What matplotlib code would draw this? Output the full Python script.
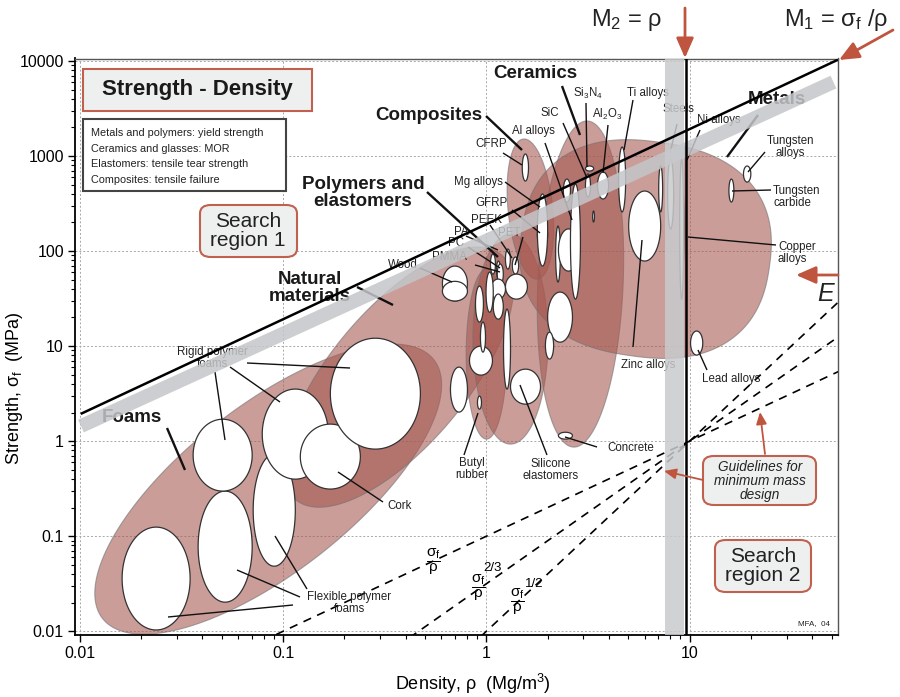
import numpy as np
import matplotlib.pyplot as plt
from matplotlib.patches import Rectangle, FancyBboxPatch
from matplotlib.ticker import FixedLocator, NullFormatter, FuncFormatter

plt.rcParams['font.family'] = ['Liberation Sans', 'DejaVu Sans']
plt.rcParams['mathtext.fontset'] = 'custom'
plt.rcParams['mathtext.rm'] = 'Liberation Sans'
plt.rcParams['mathtext.it'] = 'Liberation Sans:italic'
plt.rcParams['mathtext.bf'] = 'Liberation Sans:bold'
plt.rcParams['mathtext.default'] = 'regular'

W, H = 900, 697
RED = '#c0553f'
ENV_COL = '#a55750'
BOX_FACE = '#eef0ef'

######
#   data
######
XLIM = (10 ** -2.025, 10 ** 1.73)
YLIM = (10 ** -2.04, 10 ** 4.026)
X_TICKS = [0.01, 0.1, 1, 10]
Y_TICKS = [0.01, 0.1, 1, 10, 100, 1000, 10000]

# family envelopes: major axis from (rho1, sig1) to (rho2, sig2), width in decades
ENV_NAMES = ['Foams', 'Natural', 'Elastomers', 'Polymers', 'Composites', 'Ceramics', 'Metals']
ENV_RHO1 = [0.0129, 0.115, 1.0, 1.313, 1.78, 2.68, 1.49]
ENV_SIG1 = [0.0136, 0.242, 1.05, 0.93, 50.7, 0.865, 160]
ENV_RHO2 = [0.551, 1.18, 1.0, 1.313, 1.52, 3.14, 24.7]
ENV_SIG2 = [7.18, 92, 64.6, 151, 1510, 2335, 68.9]
ENV_WIDTH = [0.82, 0.67, 0.20, 0.37, 0.22, 0.42, 1.06]
ENV_POWER = [2, 2, 2, 2, 2, 2, 2.4]

# individual materials: density range and strength range
BUB_RHO_LO = [0.0161, 0.0381, 0.0711, 0.036, 0.0788, 0.1213, 0.1705,
              0.607, 0.607, 0.665, 0.825, 0.903, 0.883, 0.934, 1.213, 1.313,
              1.046, 1.12, 1.13, 1.24, 1.34, 1.24, 1.05, 1.08, 0.995,
              1.50, 1.78, 1.78, 2.19, 2.26, 2.59, 2.39, 2.0, 1.95,
              3.07, 3.07, 3.52, 3.33, 4.47, 5.01, 7.79, 7.04, 8.93,
              10.1, 18.4, 15.6, 2.26]
BUB_RHO_HI = [0.0348, 0.0703, 0.1146, 0.0703, 0.1667, 0.2395, 0.473,
              0.806, 0.806, 0.806, 1.07, 0.945, 0.966, 0.989, 1.313, 1.845,
              1.107, 1.17, 1.21, 1.31, 1.44, 1.59, 1.24, 1.21, 1.08,
              1.61, 2.0, 2.0, 2.31, 2.84, 2.90, 2.59, 2.65, 2.14,
              3.25, 3.37, 3.99, 3.40, 4.84, 7.2, 8.34, 7.36, 9.34,
              11.6, 20.0, 16.5, 2.65]
BUB_SIG_LO = [0.0103, 0.0202, 0.0483, 0.298, 0.398, 0.313, 0.824,
              29.8, 29.8, 2.02, 4.95, 2.17, 17.9, 8.64, 3.53, 2.45,
              57.2, 50.7, 45, 64.6, 57.2, 31.2, 31.2, 19.2, 22.7,
              545, 113, 69.5, 47.2, 61.5, 31.2, 328, 11.0, 7.3,
              370, 695, 353, 202, 258, 78.5, 171, 258, 31.2,
              8.04, 532, 328, 1.05]
BUB_SIG_HI = [0.1245, 0.298, 0.73, 1.70, 3.53, 1.51, 12.1,
              69.5, 48, 6.01, 10.0, 2.98, 42.8, 17.9, 24.5, 5.72,
              93, 78.5, 73, 105, 86.5, 57.2, 50.7, 35.3, 60,
              1050, 192, 398, 183, 171, 507, 572, 37.0, 14.0,
              647, 785, 679, 264, 1244, 428, 929, 785, 929,
              14.4, 785, 572, 1.24]

# performance index lines
M1_COEF = 192            # sigma_f / rho = 192
M1_RHO = [0.0102, 53.0]
M1_BAND_RHO = [0.0101, 51.0]
M1_BAND_SIG = [1.44, 6000]
M2_RHO = 9.55
M2_BAND = (7.53, 9.4)
GUIDE_EXPONENTS = [1, 1.5, 2]   # sigma^(1/k)/rho = const
GUIDE_PIVOT = (10, 1)

######
#   figure
######
fig = plt.figure(figsize=(W / 100, H / 100), dpi=100)
ax_l, ax_r, ax_t, ax_b = 75, 838, 58.5, 635
ax = fig.add_axes([ax_l / W, 1 - ax_b / H, (ax_r - ax_l) / W, (ax_b - ax_t) / H])
ax.set_xscale('log')
ax.set_yscale('log')
ax.set_xlim(*XLIM)
ax.set_ylim(*YLIM)

# display aspect: pixels per y-decade / pixels per x-decade
px_x = (ax_r - ax_l) / (np.log10(XLIM[1]) - np.log10(XLIM[0]))
px_y = (ax_b - ax_t) / (np.log10(YLIM[1]) - np.log10(YLIM[0]))
ASPECT = px_y / px_x


def fp(x, y):
    return x / W, 1 - y / H


def envelope(r1, s1, r2, s2, width, power, **kw):
    u1, v1 = np.log10(r1), np.log10(s1) * ASPECT
    u2, v2 = np.log10(r2), np.log10(s2) * ASPECT
    cu, cv = (u1 + u2) / 2, (v1 + v2) / 2
    length = np.hypot(u2 - u1, v2 - v1)
    ang = np.arctan2(v2 - v1, u2 - u1)
    t = np.linspace(0, 2 * np.pi, 400)
    c, s = np.cos(t), np.sin(t)
    a = np.sign(c) * np.abs(c) ** (2 / power) * length / 2
    b = np.sign(s) * np.abs(s) ** (2 / power) * width / 2
    uu = cu + a * np.cos(ang) - b * np.sin(ang)
    vv = cv + a * np.sin(ang) + b * np.cos(ang)
    ax.fill(10 ** uu, 10 ** (vv / ASPECT), **kw)


def bubble(rlo, rhi, slo, shi, **kw):
    t = np.linspace(0, 2 * np.pi, 200)
    lx = (np.log10(rlo) + np.log10(rhi)) / 2 + (np.log10(rhi) - np.log10(rlo)) / 2 * np.cos(t)
    ly = (np.log10(slo) + np.log10(shi)) / 2 + (np.log10(shi) - np.log10(slo)) / 2 * np.sin(t)
    ax.fill(10 ** lx, 10 ** ly, **kw)


# grid
for v in X_TICKS:
    ax.axvline(v, color='#a8a8a8', lw=0.7, ls=(0, (2, 2)), zorder=0)
for v in Y_TICKS:
    ax.axhline(v, color='#a8a8a8', lw=0.7, ls=(0, (2, 2)), zorder=0)

# guidelines for minimum mass design
rho = np.logspace(-2.1, 1.8, 50)
for k in GUIDE_EXPONENTS:
    sig = GUIDE_PIVOT[1] * (rho / GUIDE_PIVOT[0]) ** k
    ax.plot(rho, sig, color='black', lw=1.2, ls=(0, (5, 4)), zorder=1.5)

# envelopes
for i in range(len(ENV_NAMES)):
    envelope(ENV_RHO1[i], ENV_SIG1[i], ENV_RHO2[i], ENV_SIG2[i], ENV_WIDTH[i], ENV_POWER[i],
             facecolor=ENV_COL, edgecolor='#707070', lw=0.8, alpha=0.58, zorder=1)

# bubbles
for i in range(len(BUB_RHO_LO)):
    bubble(BUB_RHO_LO[i], BUB_RHO_HI[i], BUB_SIG_LO[i], BUB_SIG_HI[i],
           facecolor='white', edgecolor='#333333', lw=0.9, zorder=2)

# M1 band and line, M2 band and line
ax.plot(M1_BAND_RHO, M1_BAND_SIG, color='#c4c6c9', lw=10, alpha=0.85,
        solid_capstyle='butt', zorder=4)
m1 = np.array(M1_RHO)
ax.plot(m1, M1_COEF * m1, color='black', lw=1.8, zorder=5)
ax.axvspan(*M2_BAND, color='#c8cacd', alpha=0.85, lw=0, zorder=4)
ax.axvline(M2_RHO, color='black', lw=1.8, zorder=5)

######
#   labels and leader lines (figure pixel positions)
######
def lab(x, y, s, size=8.3, **kw):
    kw.setdefault('ha', 'center')
    kw.setdefault('va', 'center')
    kw.setdefault('color', '#222222')
    ax.text(*fp(x, y), s, transform=fig.transFigure, fontsize=size, zorder=3,
            linespacing=1.0, **kw)


def lead(x0, y0, x1, y1, lw=1.0):
    (a0, b0), (a1, b1) = fp(x0, y0), fp(x1, y1)
    ax.plot([a0, a1], [b0, b1], color='#111111', lw=lw, transform=fig.transFigure,
            zorder=3, solid_capstyle='butt')


small = [
    (491, 144, 'CFRP'), (533, 131, 'Al alloys'), (550, 113, 'SiC'),
    (588, 93, 'Si$_3$N$_4$'), (607, 114, 'Al$_2$O$_3$'), (648, 93, 'Ti alloys'),
    (678, 109, 'Steels'), (719, 120, 'Ni alloys'), (790, 147, 'Tungsten\nalloys'),
    (478, 182, 'Mg alloys'), (492, 203, 'GFRP'), (486, 220, 'PEEK'),
    (509, 233, 'PET'), (461, 232, 'PA'), (456, 243, 'PC'), (449, 257, 'PMMA'),
    (403, 265, 'Wood'), (212, 358, 'Rigid polymer\nfoams'),
    (349, 603, 'Flexible polymer\nfoams'), (400, 506, 'Cork'),
    (472, 469, 'Butyl\nrubber'), (551, 470, 'Silicone\nelastomers'),
    (631, 448, 'Concrete'), (648, 365, 'Zinc alloys'), (731, 379, 'Lead alloys'),
]
for x, y, s in small:
    lab(x, y, s)
lab(773, 197, 'Tungsten\ncarbide', ha='left')
lab(778, 253, 'Copper\nalloys', ha='left')
lab(814, 624, 'MFA,  04', size=5.8)

bold = [
    (535, 74, 'Ceramics'), (429, 115, 'Composites'), (363, 193, 'Polymers and\nelastomers'),
    (310, 288, 'Natural\nmaterials'), (132, 418, 'Foams'), (777, 100, 'Metals'),
]
for x, y, s in bold:
    lab(x, y, s, size=13.5, weight='bold', color='#1a1a1a')

thick = [
    (486, 116, 522, 150), (562, 86, 580, 135), (427, 192, 498, 257),
    (357, 287, 393, 305), (167, 428, 185, 470), (758, 115, 727, 157),
]
for seg in thick:
    lead(*seg, lw=1.7)

thin = [
    (503, 153, 522, 165), (545, 143, 572, 220), (563, 123, 587, 178),
    (586, 103, 587, 167), (608, 125, 603, 173), (633, 100, 624, 150),
    (677, 124, 670, 153), (700, 130, 687, 160), (765, 152, 748, 172),
    (732, 191, 771, 190), (688, 237, 776, 245), (505, 182, 540, 207),
    (512, 210, 540, 233), (490, 225, 512, 258), (466, 236, 498, 250),
    (468, 247, 500, 268), (475, 265, 500, 272), (523, 237, 515, 265),
    (420, 268, 452, 282), (215, 372, 225, 440), (230, 367, 280, 402),
    (247, 363, 350, 368), (300, 597, 237, 570), (307, 589, 275, 536),
    (293, 605, 168, 617), (383, 502, 338, 472), (464, 455, 478, 413),
    (547, 455, 520, 385), (597, 447, 565, 437), (633, 347, 642, 240),
    (707, 370, 698, 350),
]
for seg in thin:
    lead(*seg)

# guideline labels
frac = r'$\dfrac{σ_f}{ρ}$'
lab(433, 562, frac, size=11, color='black')
lab(478, 588, frac, size=11, color='black')
lab(493, 568, '2/3', size=9.5, color='black')
lab(517, 602, frac, size=11, color='black')
lab(534, 584, '1/2', size=9.5, color='black')

# boxes
ax.add_patch(Rectangle(fp(83, 111), 229 / W, 42 / H, transform=fig.transFigure,
                       facecolor=BOX_FACE, edgecolor='#c0604f', lw=1.5, zorder=6))
ax.text(*fp(197, 90), 'Strength - Density', transform=fig.transFigure, fontsize=16,
        weight='bold', ha='center', va='center', color='#1a1a1a', zorder=7)
ax.add_patch(Rectangle(fp(83, 191), 203 / W, 72 / H, transform=fig.transFigure,
                       facecolor='white', edgecolor='#444444', lw=1.5, zorder=6))
for i, s in enumerate(['Metals and polymers: yield strength', 'Ceramics and glasses: MOR',
                       'Elastomers: tensile tear strength', 'Composites: tensile failure']):
    ax.text(*fp(91, 133 + i * 15.7), s, transform=fig.transFigure, fontsize=7.8,
            ha='left', va='center', color='#222222', zorder=7)


def rbox(x0, y0, x1, y1):
    ax.add_patch(FancyBboxPatch(fp(x0, y1), (x1 - x0) / W, (y1 - y0) / H,
                                boxstyle='round,pad=0,rounding_size=0.012',
                                transform=fig.transFigure, facecolor=BOX_FACE,
                                edgecolor='#c0604f', lw=1.5, zorder=6))


rbox(200, 205, 297, 257)
ax.text(*fp(248, 231), 'Search\nregion 1', transform=fig.transFigure, fontsize=15,
        ha='center', va='center', linespacing=0.95, color='#222222', zorder=7)
rbox(715, 540, 811, 592)
ax.text(*fp(763, 566), 'Search\nregion 2', transform=fig.transFigure, fontsize=15,
        ha='center', va='center', linespacing=0.95, color='#222222', zorder=7)
rbox(703, 456, 816, 505)
ax.text(*fp(760, 481), 'Guidelines for\nminimum mass\ndesign', transform=fig.transFigure,
        fontsize=9.8, style='italic', ha='center', va='center', linespacing=1.0,
        color='#222222', zorder=7)


def arrow(x0, y0, x1, y1, lw=2.0, scale=15):
    ax.annotate('', xy=fp(x1, y1), xycoords='figure fraction', xytext=fp(x0, y0),
                textcoords='figure fraction', annotation_clip=False, zorder=8,
                arrowprops=dict(arrowstyle='-|>,head_length=0.8,head_width=0.35',
                                color=RED, lw=lw, shrinkA=0, shrinkB=0,
                                mutation_scale=scale))


arrow(685, 8, 685, 58)
arrow(893, 30, 839, 60)
arrow(838, 275, 796, 275)
arrow(703, 480, 664, 471, lw=1.3, scale=9)
arrow(765, 454, 760, 412, lw=1.3, scale=9)

fig.text(*fp(627, 20), 'M$_2$ = ρ', fontsize=17, ha='center', va='center', color='#222222')
fig.text(*fp(836, 20), 'M$_1$ = σ$_f$ /ρ', fontsize=17, ha='center', va='center', color='#222222')
ax.text(*fp(826, 294), 'E', transform=fig.transFigure, fontsize=18, style='italic',
        ha='center', va='center', color='#222222', zorder=7)

# axes styling: only ticks inside the view
x_minor = [m * d for d in [0.01, 0.1, 1, 10] for m in range(2, 10) if m * d < XLIM[1]]
y_minor = [m * d for d in [0.01, 0.1, 1, 10, 100, 1000] for m in range(2, 10)]
ax.xaxis.set_major_locator(FixedLocator(X_TICKS))
ax.yaxis.set_major_locator(FixedLocator(Y_TICKS))
ax.xaxis.set_minor_locator(FixedLocator(x_minor))
ax.yaxis.set_minor_locator(FixedLocator(y_minor))
ax.xaxis.set_minor_formatter(NullFormatter())
ax.yaxis.set_minor_formatter(NullFormatter())
fmt = FuncFormatter(lambda v, p: f'{v:g}')
ax.xaxis.set_major_formatter(fmt)
ax.yaxis.set_major_formatter(fmt)
ax.tick_params(which='major', direction='out', length=5, width=1, labelsize=11.5, pad=3)
ax.tick_params(which='minor', direction='out', length=3, width=0.8)
for side in ['left', 'bottom']:
    ax.spines[side].set_linewidth(1.3)
for side in ['top', 'right']:
    ax.spines[side].set_color('#555555')
    ax.spines[side].set_linewidth(1.0)

fig.text(*fp(473, 684), 'Density, ρ  (Mg/m$^3$)', fontsize=13, ha='center', va='center')
fig.text(*fp(15, 388), 'Strength, σ$_f$  (MPa)', fontsize=13, ha='center', va='center',
         rotation=90)

fig.savefig('out.png', dpi=100)
